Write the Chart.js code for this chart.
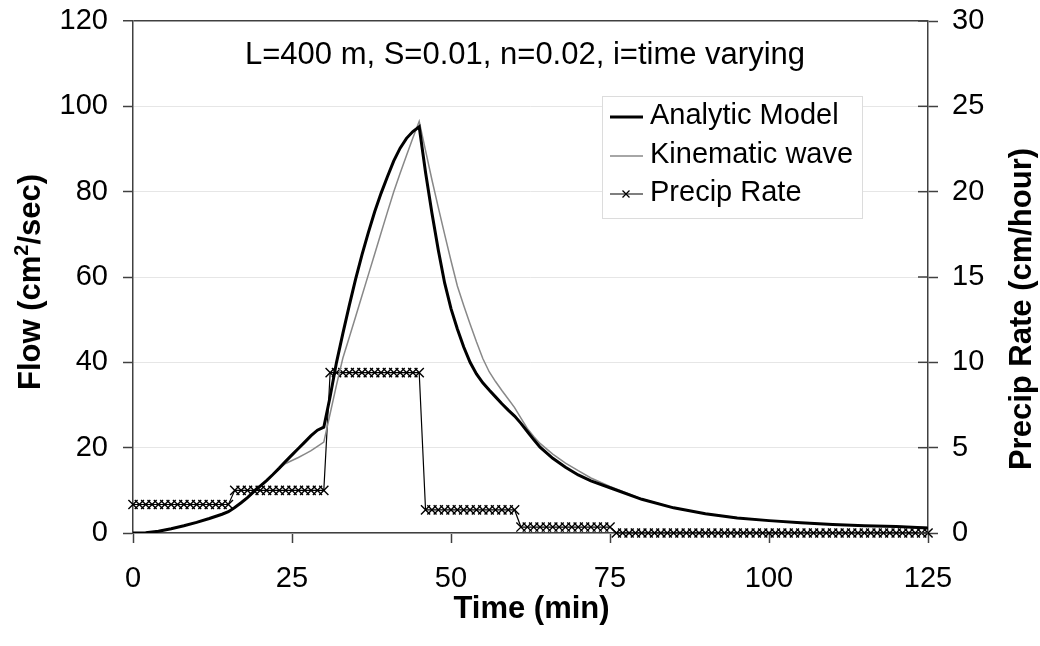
<!DOCTYPE html>
<html>
<head>
<meta charset="utf-8">
<script src="https://cdn.jsdelivr.net/npm/chart.js@4/dist/chart.umd.min.js"></script>
<style>
  html, body { margin: 0; padding: 0; background: #fff; }
  #wrap { position: relative; width: 1040px; height: 646px; }
</style>
</head>
<body>
<div id="wrap"><canvas id="c" width="1040" height="646"></canvas></div>
<script>
// ---- data ----
const timeMin = [0,2,4,6,8,10,12,14,15,16,17,18,19,20,21,22,23,24,25,26,27,28,29,30,
  31,32,33,34,35,36,37,38,39,40,41,42,43,44,45,46,47,48,49,50,51,52,53,54,55,56,57,58,59,60,
  61,62,63,64,66,68,70,72,75,80,85,90,95,100,105,110,115,120,125];

const flowAnalytic = [0,0.05,0.4,1.0,1.7,2.5,3.4,4.4,5.0,6.0,7.1,8.3,9.7,11.0,12.3,13.7,15.2,16.8,18.3,19.8,21.3,22.8,24.1,24.8,
  32,40,46.8,53.3,59.5,65.2,70.4,75.3,79.6,83.5,87.2,90.2,92.5,94.1,95.2,84.5,75.0,66.3,58.6,52.6,47.8,43.6,40.0,37.3,35.2,33.5,31.9,30.3,28.8,27.4,
  25.7,23.8,21.9,20.1,17.5,15.4,13.6,12.2,10.6,7.9,5.9,4.5,3.5,2.9,2.4,2.0,1.7,1.5,1.2];

const flowKinematic = [0,0.05,0.4,1.0,1.7,2.5,3.4,4.4,5.0,6.0,7.1,8.3,9.7,11.0,12.3,13.7,15.1,16.3,17.0,17.7,18.5,19.3,20.3,21.3,
  28,34.7,41,45.8,50.7,55.6,60.5,65.4,70.3,75.2,80,84.3,88.5,92.6,96.5,89.6,82.8,76.3,70,63.8,57.9,53.3,49.0,44.8,40.9,37.8,35.5,33.4,31.4,29.4,
  26.9,24.5,22.6,21.0,18.5,16.4,14.6,12.9,10.9,8.0,5.9,4.5,3.6,2.9,2.4,2.0,1.7,1.5,1.3];

const precipTime = [0,1,2,3,4,5,6,7,8,9,10,11,12,13,14,15,16,17,18,19,20,21,22,23,24,25,26,27,28,29,30,
  31,32,33,34,35,36,37,38,39,40,41,42,43,44,45,46,47,48,49,50,51,52,53,54,55,56,57,58,59,60,
  61,62,63,64,65,66,67,68,69,70,71,72,73,74,75,76,77,78,79,80,81,82,83,84,85,86,87,88,89,90,
  91,92,93,94,95,96,97,98,99,100,101,102,103,104,105,106,107,108,109,110,111,112,113,114,115,
  116,117,118,119,120,121,122,123,124,125];

const precipRate = [1.67,1.67,1.67,1.67,1.67,1.67,1.67,1.67,1.67,1.67,1.67,1.67,1.67,1.67,1.67,1.67,
  2.5,2.5,2.5,2.5,2.5,2.5,2.5,2.5,2.5,2.5,2.5,2.5,2.5,2.5,2.5,
  9.4,9.4,9.4,9.4,9.4,9.4,9.4,9.4,9.4,9.4,9.4,9.4,9.4,9.4,9.4,
  1.35,1.35,1.35,1.35,1.35,1.35,1.35,1.35,1.35,1.35,1.35,1.35,1.35,1.35,1.35,
  0.35,0.35,0.35,0.35,0.35,0.35,0.35,0.35,0.35,0.35,0.35,0.35,0.35,0.35,0.35,
  0,0,0,0,0,0,0,0,0,0,0,0,0,0,0,0,0,0,0,0,0,0,0,0,0,
  0,0,0,0,0,0,0,0,0,0,0,0,0,0,0,0,0,0,0,0,0,0,0,0,0];

const seriesNames = ['Analytic Model', 'Kinematic wave', 'Precip Rate'];
const xTitle = 'Time (min)';
const yTitleParts = ['Flow (cm', '2', '/sec)'];
const y2Title = 'Precip Rate (cm/hour)';
const noteText = 'L=400 m, S=0.01, n=0.02, i=time varying';

// ---- helpers ----
const FONT = "'Liberation Sans', Arial, sans-serif";
const AX = '#404040';
const pts = (xs, ys) => xs.map((x, i) => ({ x: x, y: ys[i] }));

const decor = {
  id: 'decor',
  afterDraw(chart) {
    const ctx = chart.ctx;
    const y1 = chart.scales.y1;
    const xs = chart.scales.x;
    ctx.save();
    // inner halves of right-axis ticks
    ctx.strokeStyle = AX; ctx.lineWidth = 1.5;
    y1.ticks.forEach(t => {
      const py = y1.getPixelForValue(t.value);
      ctx.beginPath(); ctx.moveTo(y1.left - 10, py); ctx.lineTo(y1.left, py); ctx.stroke();
    });
    // axis titles
    ctx.fillStyle = '#000';
    const bold = 'bold 31px ' + FONT, boldSmall = 'bold 20px ' + FONT;
    ctx.font = bold;
    ctx.textAlign = 'center'; ctx.textBaseline = 'alphabetic';
    ctx.fillText(xTitle, (xs.left + xs.right) / 2 + 1, 618);
    // left title with superscript
    ctx.save(); ctx.translate(40, 282); ctx.rotate(-Math.PI / 2);
    ctx.font = bold; const w1 = ctx.measureText(yTitleParts[0]).width, w3 = ctx.measureText(yTitleParts[2]).width;
    ctx.font = boldSmall; const w2 = ctx.measureText(yTitleParts[1]).width;
    let sx = -(w1 + w2 + w3) / 2;
    ctx.textAlign = 'left';
    ctx.font = bold; ctx.fillText(yTitleParts[0], sx, 0); sx += w1;
    ctx.font = boldSmall; ctx.fillText(yTitleParts[1], sx, -12); sx += w2;
    ctx.font = bold; ctx.fillText(yTitleParts[2], sx, 0);
    ctx.restore();
    // right title
    ctx.save(); ctx.translate(1031, 309); ctx.rotate(-Math.PI / 2);
    ctx.font = bold; ctx.textAlign = 'center';
    ctx.fillText(y2Title, 0, 0); ctx.restore();
    // note
    ctx.font = '31px ' + FONT; ctx.textAlign = 'center'; ctx.textBaseline = 'middle';
    ctx.fillText(noteText, 525, 55);
    // legend
    const bx = 602, by = 96, bw = 260, bh = 122;
    ctx.fillStyle = '#fff'; ctx.fillRect(bx, by, bw, bh);
    ctx.strokeStyle = '#dcdcdc'; ctx.lineWidth = 1; ctx.strokeRect(bx + 0.5, by + 0.5, bw, bh);
    const rows = [117, 156, 194];
    const styles = [{ c: '#000', w: 3 }, { c: '#888', w: 1.5 }, { c: '#000', w: 1.2 }];
    ctx.font = '29px ' + FONT; ctx.textAlign = 'left'; ctx.textBaseline = 'middle';
    rows.forEach((ry, i) => {
      ctx.strokeStyle = styles[i].c; ctx.lineWidth = styles[i].w;
      ctx.beginPath(); ctx.moveTo(610, ry); ctx.lineTo(643, ry); ctx.stroke();
      if (i === 2) {
        ctx.lineWidth = 1.3;
        ctx.beginPath();
        ctx.moveTo(622.5, ry - 3.5); ctx.lineTo(629.5, ry + 3.5);
        ctx.moveTo(629.5, ry - 3.5); ctx.lineTo(622.5, ry + 3.5);
        ctx.stroke();
      }
      ctx.fillStyle = '#000';
      ctx.fillText(seriesNames[i], 650, ry - 1);
    });
    ctx.restore();
  }
};

new Chart(document.getElementById('c'), {
  type: 'line',
  data: {
    datasets: [
      {
        label: seriesNames[2], data: pts(precipTime, precipRate), yAxisID: 'y1',
        borderColor: '#000', borderWidth: 1.2, pointStyle: 'crossRot', pointRadius: 6.5,
        pointBorderColor: '#000', pointBorderWidth: 1.4, pointBackgroundColor: '#000',
        clip: false, order: 3
      },
      {
        label: seriesNames[1], data: pts(timeMin, flowKinematic), yAxisID: 'y',
        borderColor: '#888', borderWidth: 1.5, pointRadius: 0, tension: 0, order: 2
      },
      {
        label: seriesNames[0], data: pts(timeMin, flowAnalytic), yAxisID: 'y',
        borderColor: '#000', borderWidth: 3, pointRadius: 0, tension: 0, order: 1
      }
    ]
  },
  options: {
    responsive: false,
    animation: false,
    events: [],
    layout: { padding: { top: 21, left: 0, right: 0, bottom: 0 } },
    plugins: { legend: { display: false }, tooltip: { enabled: false } },
    scales: {
      x: {
        type: 'linear', min: 0, max: 125,
        afterFit: s => { s.height = 113; s.paddingLeft = 0; s.paddingRight = 0; },
        ticks: { stepSize: 25, font: { family: FONT, size: 29 }, color: '#000', padding: 19, maxRotation: 0 },
        grid: { drawOnChartArea: false, tickLength: 10, tickColor: AX, tickWidth: 1.5 },
        border: { color: AX, width: 1.5 }
      },
      y: {
        position: 'left', min: 0, max: 120,
        afterFit: s => { s.width = 133; s.paddingTop = 0; s.paddingBottom = 0; },
        ticks: { stepSize: 20, font: { family: FONT, size: 29 }, color: '#000', padding: 15 },
        grid: {
          color: c => (c.tick && c.tick.value === 120) ? AX : '#e6e6e6',
          lineWidth: c => (c.tick && c.tick.value === 120) ? 1.5 : 1,
          tickLength: 10, tickColor: AX, tickWidth: 1.5
        },
        border: { color: AX, width: 1.5 }
      },
      y1: {
        position: 'right', min: 0, max: 30,
        afterFit: s => { s.width = 112; s.paddingTop = 0; s.paddingBottom = 0; },
        ticks: { stepSize: 5, font: { family: FONT, size: 29 }, color: '#000', padding: 14 },
        grid: { drawOnChartArea: false, tickLength: 10, tickColor: AX, tickWidth: 1.5 },
        border: { color: AX, width: 1.5 }
      }
    }
  },
  plugins: [decor]
});
</script>
</body>
</html>
